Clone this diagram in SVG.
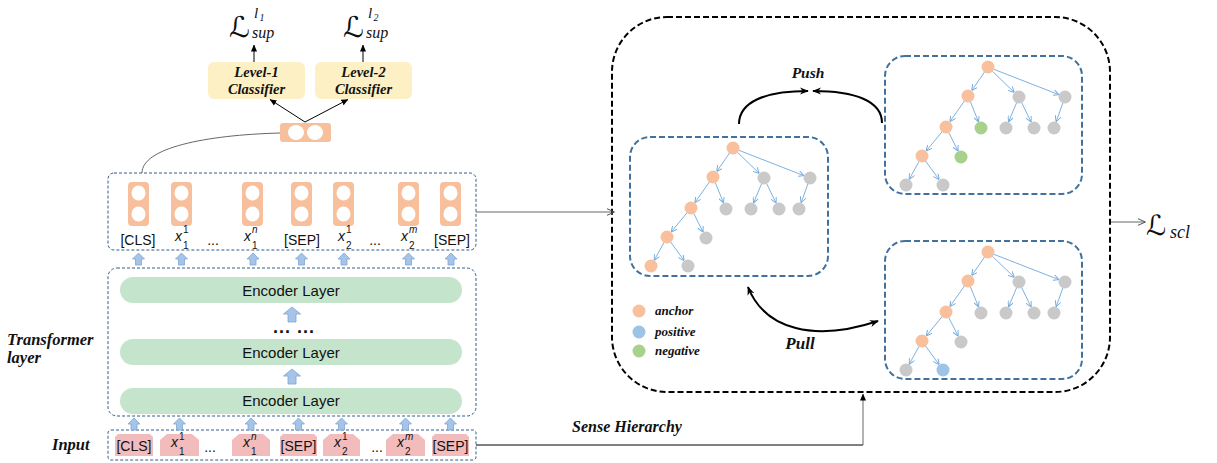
<svg xmlns="http://www.w3.org/2000/svg" xmlns:xlink="http://www.w3.org/1999/xlink" width="1217" height="463" viewBox="0 0 1217 463">
<style>
.sans{font-family:"Liberation Sans",Arial,sans-serif;fill:#111}
.bi{font-family:"Liberation Serif","Times New Roman",serif;font-weight:bold;font-style:italic;fill:#111}
.it{font-family:"Liberation Serif","Times New Roman",serif;font-style:italic;fill:#111}
.cal{font-family:"DejaVu Serif","DejaVu Sans",serif;fill:#111}
.tok{fill:#f7bf9b}
.hole{fill:#fff}
.inp{fill:#f2bcbd}
.enc{fill:#c4e5cc}
.cls{fill:#fdf0c4}
.lbox{fill:none;stroke:#2f5d8c;stroke-width:1;stroke-dasharray:3 2}
.tbox{fill:#fff;stroke:#41719c;stroke-width:2;stroke-dasharray:6 3}
.big{fill:none;stroke:#000;stroke-width:2;stroke-dasharray:6 3}
.ua{fill:#a6c4e8;stroke:#7fa4d4;stroke-width:0.8}
.te{stroke:#6fa8dc;stroke-width:0.9;fill:none;marker-end:url(#mb)}
.o{fill:#f8c09c}.g{fill:#c9c9c9}.gr{fill:#a9d18e}.b{fill:#9dc3e6}
.thin{fill:none;stroke:#555;stroke-width:0.9}
.blk{fill:none;stroke:#000;stroke-width:1}
.heavy{fill:none;stroke:#000;stroke-width:2}
</style>
<defs>
<marker id="mb" viewBox="0 0 6 6" refX="5.5" refY="3" markerWidth="6" markerHeight="6" markerUnits="userSpaceOnUse" orient="auto"><path d="M0,0 L6,3 L0,6" fill="none" stroke="#6fa8dc" stroke-width="0.9"/></marker>
<marker id="mg" viewBox="0 0 8 8" refX="7.5" refY="4" markerWidth="8" markerHeight="8" markerUnits="userSpaceOnUse" orient="auto"><path d="M0,0.5 L8,4 L0,7.5" fill="none" stroke="#555" stroke-width="1"/></marker>
<marker id="mk" viewBox="0 0 8 8" refX="7.5" refY="4" markerWidth="7" markerHeight="7" markerUnits="userSpaceOnUse" orient="auto"><path d="M0,0.5 L8,4 L0,7.5 Z" fill="#000"/></marker>
<marker id="mh" viewBox="0 0 10 10" refX="9" refY="5" markerWidth="9" markerHeight="9" markerUnits="userSpaceOnUse" orient="auto"><path d="M0,1 L10,5 L0,9 L3,5 Z" fill="#000"/></marker>
<marker id="mhs" viewBox="0 0 10 10" refX="1" refY="5" markerWidth="9" markerHeight="9" markerUnits="userSpaceOnUse" orient="auto"><path d="M10,1 L0,5 L10,9 L7,5 Z" fill="#000"/></marker>
<path id="ua" d="M0,0 L6,6 L3,6 L3,12 L-3,12 L-3,6 L-6,6 Z"/>
<path id="ub" d="M0,0 L8.5,7 L4,7 L4,15 L-4,15 L-4,7 L-8.5,7 Z"/>
<g id="edges">
<path class="te" d="M-3.4,4.9 L-16,23.2"/>
<path class="te" d="M4.3,4.2 L26,25.1"/>
<path class="te" d="M5.6,2.2 L70.5,27.5"/>
<path class="te" d="M-23.5,33.9 L-37.9,54.3"/>
<path class="te" d="M-17.7,34.6 L-9.6,54.5"/>
<path class="te" d="M28.7,35.5 L20.7,54.5"/>
<path class="te" d="M33.6,35.4 L42.9,54.7"/>
<path class="te" d="M75,35.6 L68.3,54.4"/>
<path class="te" d="M-45.8,64.6 L-61.5,83.6"/>
<path class="te" d="M-39.3,65.4 L-30.1,83.7"/>
<path class="te" d="M-68.9,94.3 L-78.6,111.9"/>
<path class="te" d="M-62.5,93.9 L-49.1,112.3"/>
</g>
</defs>
<rect width="1217" height="463" fill="#fff"/>

<!-- left labels -->
<g id="label-transformer"><text class="bi" x="7" y="345" font-size="16.5">Transformer</text><text class="bi" x="7" y="363" font-size="16.5">layer</text></g>
<g id="label-input"><text class="bi" x="52" y="450" font-size="16.5">Input</text></g>

<!-- output token box -->
<g id="output-tokens">
<rect class="lbox" x="108" y="173" width="368" height="77" rx="6"/>
<g id="o-cls"><rect class="tok" x="128" y="182" width="21" height="44" rx="4"/><ellipse class="hole" cx="138.5" cy="193" rx="7" ry="7.5"/><ellipse class="hole" cx="138.5" cy="214" rx="7" ry="7.5"/></g>
<g id="o-x11"><rect class="tok" x="171" y="182" width="21" height="44" rx="4"/><ellipse class="hole" cx="181.5" cy="193" rx="7" ry="7.5"/><ellipse class="hole" cx="181.5" cy="214" rx="7" ry="7.5"/></g>
<g id="o-x1n"><rect class="tok" x="242" y="182" width="21" height="44" rx="4"/><ellipse class="hole" cx="252.5" cy="193" rx="7" ry="7.5"/><ellipse class="hole" cx="252.5" cy="214" rx="7" ry="7.5"/></g>
<g id="o-sep1"><rect class="tok" x="291" y="182" width="21" height="44" rx="4"/><ellipse class="hole" cx="301.5" cy="193" rx="7" ry="7.5"/><ellipse class="hole" cx="301.5" cy="214" rx="7" ry="7.5"/></g>
<g id="o-x21"><rect class="tok" x="333" y="182" width="21" height="44" rx="4"/><ellipse class="hole" cx="343.5" cy="193" rx="7" ry="7.5"/><ellipse class="hole" cx="343.5" cy="214" rx="7" ry="7.5"/></g>
<g id="o-x2m"><rect class="tok" x="398" y="182" width="21" height="44" rx="4"/><ellipse class="hole" cx="408.5" cy="193" rx="7" ry="7.5"/><ellipse class="hole" cx="408.5" cy="214" rx="7" ry="7.5"/></g>
<g id="o-sep2"><rect class="tok" x="440" y="182" width="21" height="44" rx="4"/><ellipse class="hole" cx="450.5" cy="193" rx="7" ry="7.5"/><ellipse class="hole" cx="450.5" cy="214" rx="7" ry="7.5"/></g>
<text class="sans" x="138" y="245" font-size="14" text-anchor="middle">[CLS]</text>
<text class="sans" x="175" y="241" font-size="14" font-style="italic">x</text><text class="sans" x="183" y="233" font-size="10">1</text><text class="sans" x="183" y="249" font-size="10">1</text>
<text class="sans" x="213" y="245" font-size="14" text-anchor="middle">...</text>
<text class="sans" x="244" y="241" font-size="14" font-style="italic">x</text><text class="sans" x="252" y="233" font-size="10" font-style="italic">n</text><text class="sans" x="252" y="249" font-size="10">1</text>
<text class="sans" x="302" y="245" font-size="14" text-anchor="middle">[SEP]</text>
<text class="sans" x="338" y="241" font-size="14" font-style="italic">x</text><text class="sans" x="346" y="233" font-size="10">1</text><text class="sans" x="346" y="249" font-size="10">2</text>
<text class="sans" x="375" y="245" font-size="14" text-anchor="middle">...</text>
<text class="sans" x="401" y="241" font-size="14" font-style="italic">x</text><text class="sans" x="409" y="233" font-size="10" font-style="italic">m</text><text class="sans" x="409" y="249" font-size="10">2</text>
<text class="sans" x="452" y="245" font-size="14" text-anchor="middle">[SEP]</text>
</g>

<!-- transformer box -->
<g id="transformer">
<rect class="lbox" x="108" y="268" width="368" height="148" rx="9"/>
<g id="enc3"><rect class="enc" x="120" y="277" width="342" height="26" rx="13"/><text class="sans" x="291" y="296" font-size="15" text-anchor="middle">Encoder Layer</text></g>
<text class="sans" x="294" y="333" font-size="18" font-weight="bold" text-anchor="middle" letter-spacing="1">... ...</text>
<g id="enc2"><rect class="enc" x="120" y="339" width="342" height="26" rx="13"/><text class="sans" x="291" y="358" font-size="15" text-anchor="middle">Encoder Layer</text></g>
<g id="enc1"><rect class="enc" x="120" y="388" width="342" height="26" rx="13"/><text class="sans" x="291" y="406" font-size="15" text-anchor="middle">Encoder Layer</text></g>
</g>

<!-- input box -->
<g id="input-tokens">
<rect class="lbox" x="108" y="430" width="368" height="30" rx="3"/>
<g id="i-cls"><path class="inp" d="M118,434 L150,434 L153,437 L153,456 L115,456 L115,437 Z"/><text class="sans" x="134" y="451" font-size="14" text-anchor="middle">[CLS]</text></g>
<g id="i-x11"><path class="inp" d="M167,434 L192,434 L199,440 L199,456 L160,456 L160,440 Z"/><text class="sans" x="171" y="447" font-size="14" font-style="italic">x</text><text class="sans" x="179" y="440" font-size="10">1</text><text class="sans" x="179" y="455" font-size="10">1</text></g>
<text class="sans" x="210" y="452" font-size="14" text-anchor="middle">...</text>
<g id="i-x1n"><path class="inp" d="M239,434 L263,434 L270,440 L270,456 L232,456 L232,440 Z"/><text class="sans" x="243" y="447" font-size="14" font-style="italic">x</text><text class="sans" x="251" y="440" font-size="10" font-style="italic">n</text><text class="sans" x="251" y="455" font-size="10">1</text></g>
<g id="i-sep1"><path class="inp" d="M283,434 L314,434 L317,437 L317,456 L280,456 L280,437 Z"/><text class="sans" x="298.5" y="451" font-size="14" text-anchor="middle">[SEP]</text></g>
<g id="i-x21"><path class="inp" d="M330,434 L353,434 L360,440 L360,456 L323,456 L323,440 Z"/><text class="sans" x="334" y="447" font-size="14" font-style="italic">x</text><text class="sans" x="342" y="440" font-size="10">1</text><text class="sans" x="342" y="455" font-size="10">2</text></g>
<text class="sans" x="377" y="452" font-size="14" text-anchor="middle">...</text>
<g id="i-x2m"><path class="inp" d="M393,434 L418,434 L425,440 L425,456 L386,456 L386,440 Z"/><text class="sans" x="397" y="447" font-size="14" font-style="italic">x</text><text class="sans" x="405" y="440" font-size="10" font-style="italic">m</text><text class="sans" x="405" y="455" font-size="10">2</text></g>
<g id="i-sep2"><path class="inp" d="M435,434 L466,434 L469,437 L469,456 L432,456 L432,437 Z"/><text class="sans" x="450.5" y="451" font-size="14" text-anchor="middle">[SEP]</text></g>
</g>

<!-- blue block arrows -->
<g id="block-arrows">
<use href="#ua" class="ua" x="138.5" y="253"/><use href="#ua" class="ua" x="181.5" y="253"/><use href="#ua" class="ua" x="253" y="253"/><use href="#ua" class="ua" x="301.5" y="253"/><use href="#ua" class="ua" x="344" y="253"/><use href="#ua" class="ua" x="408.5" y="253"/><use href="#ua" class="ua" x="451" y="253"/>
<use href="#ua" class="ua" x="134" y="418"/><use href="#ua" class="ua" x="179.5" y="418"/><use href="#ua" class="ua" x="251" y="418"/><use href="#ua" class="ua" x="298.5" y="418"/><use href="#ua" class="ua" x="341.5" y="418"/><use href="#ua" class="ua" x="405.5" y="418"/><use href="#ua" class="ua" x="450.5" y="418"/>
<use href="#ub" class="ua" x="292" y="307"/><use href="#ub" class="ua" x="292" y="369"/>
</g>

<!-- pooled vector and classifiers -->
<g id="pooled"><rect class="tok" x="280" y="123" width="51" height="19" rx="3"/><ellipse class="hole" cx="296" cy="132.5" rx="8" ry="7.5"/><ellipse class="hole" cx="315" cy="132.5" rx="8" ry="7.5"/></g>
<g id="cls1"><rect class="cls" x="208" y="62" width="97" height="37" rx="6"/><text class="bi" x="256.5" y="77" font-size="14.5" text-anchor="middle">Level-1</text><text class="bi" x="256.5" y="94" font-size="14.5" text-anchor="middle">Classifier</text></g>
<g id="cls2"><rect class="cls" x="315" y="62" width="97" height="37" rx="6"/><text class="bi" x="363.5" y="77" font-size="14.5" text-anchor="middle">Level-2</text><text class="bi" x="363.5" y="94" font-size="14.5" text-anchor="middle">Classifier</text></g>
<g id="loss1"><text class="cal" x="229" y="37" font-size="29">ℒ</text><text class="it" x="254" y="18" font-size="15">l</text><text class="it" x="259.5" y="21" font-size="10">1</text><text class="it" x="252" y="38" font-size="16">sup</text></g>
<g id="loss2"><text class="cal" x="343" y="37" font-size="29">ℒ</text><text class="it" x="368" y="18" font-size="15">l</text><text class="it" x="373.5" y="21" font-size="10">2</text><text class="it" x="366" y="38" font-size="16">sup</text></g>

<!-- right big box -->
<g id="contrastive">
<rect class="big" x="612" y="17" width="498" height="375" rx="55"/>
</g>

<!-- trees -->
<g id="tree-anchor">
<rect class="tbox" x="630" y="137" width="198" height="139" rx="20"/>
<g transform="translate(733,148)">
<use href="#edges"/>
<circle class="o" cx="0" cy="0" r="6.5"/>
<circle class="o" cx="-20" cy="29" r="6.5"/><circle class="g" cx="31" cy="30" r="6.5"/><circle class="g" cx="77" cy="30" r="6.5"/>
<circle class="o" cx="-42" cy="60" r="6.5"/><circle class="g" cx="-7" cy="61" r="6.5"/><circle class="g" cx="18" cy="61" r="6.5"/><circle class="g" cx="46" cy="61" r="6.5"/><circle class="g" cx="66" cy="61" r="6.5"/>
<circle class="o" cx="-66" cy="89" r="6.5"/><circle class="g" cx="-27" cy="90" r="6.5"/>
<circle class="o" cx="-82" cy="118" r="6.5"/><circle class="g" cx="-45" cy="118" r="6.5"/>
</g>
</g>
<g id="tree-negative">
<rect class="tbox" x="885" y="56" width="197" height="138" rx="20"/>
<g transform="translate(988,67)">
<use href="#edges"/>
<circle class="o" cx="0" cy="0" r="6.5"/>
<circle class="o" cx="-20" cy="29" r="6.5"/><circle class="g" cx="31" cy="30" r="6.5"/><circle class="g" cx="77" cy="30" r="6.5"/>
<circle class="o" cx="-42" cy="60" r="6.5"/><circle class="gr" cx="-7" cy="61" r="6.5"/><circle class="g" cx="18" cy="61" r="6.5"/><circle class="g" cx="46" cy="61" r="6.5"/><circle class="g" cx="66" cy="61" r="6.5"/>
<circle class="o" cx="-66" cy="89" r="6.5"/><circle class="gr" cx="-27" cy="90" r="6.5"/>
<circle class="g" cx="-82" cy="118" r="6.5"/><circle class="g" cx="-45" cy="118" r="6.5"/>
</g>
</g>
<g id="tree-positive">
<rect class="tbox" x="885" y="241" width="197" height="138" rx="20"/>
<g transform="translate(988,252)">
<use href="#edges"/>
<circle class="o" cx="0" cy="0" r="6.5"/>
<circle class="o" cx="-20" cy="29" r="6.5"/><circle class="g" cx="31" cy="30" r="6.5"/><circle class="g" cx="77" cy="30" r="6.5"/>
<circle class="o" cx="-42" cy="60" r="6.5"/><circle class="g" cx="-7" cy="61" r="6.5"/><circle class="g" cx="18" cy="61" r="6.5"/><circle class="g" cx="46" cy="61" r="6.5"/><circle class="g" cx="66" cy="61" r="6.5"/>
<circle class="o" cx="-66" cy="89" r="6.5"/><circle class="g" cx="-27" cy="90" r="6.5"/>
<circle class="g" cx="-82" cy="118" r="6.5"/><circle class="b" cx="-45" cy="118" r="6.5"/>
</g>
</g>

<!-- legend -->
<g id="legend">
<circle class="o" cx="639" cy="311" r="6.5"/><text class="bi" x="655" y="315" font-size="13">anchor</text>
<circle class="b" cx="639" cy="332" r="6.5"/><text class="bi" x="655" y="336" font-size="13">positive</text>
<circle class="gr" cx="639" cy="351" r="6.5"/><text class="bi" x="655" y="355" font-size="13">negative</text>
</g>

<g id="labels-right">
<text class="bi" x="808" y="78" font-size="15.5" text-anchor="middle">Push</text>
<text class="bi" x="800" y="349" font-size="17" text-anchor="middle">Pull</text>
<text class="bi" x="627" y="432" font-size="16" text-anchor="middle">Sense Hierarchy</text>
<g id="loss-scl"><text class="cal" x="1146" y="235" font-size="28">ℒ</text><text class="it" x="1170" y="238" font-size="18">scl</text></g>
</g>

<!-- connectors -->
<g id="connectors">
<path class="thin" d="M142,173 C142,148 205,135 280,133"/>
<path class="blk" d="M305,122 L270,99.5" marker-end="url(#mk)"/>
<path class="blk" d="M305,122 L348,99.5" marker-end="url(#mk)"/>
<path class="blk" d="M254,62 L254,45" marker-end="url(#mk)"/>
<path class="blk" d="M363,62 L363,45" marker-end="url(#mk)"/>
<path class="thin" d="M476,212 L614,212" marker-end="url(#mg)"/>
<path class="thin" stroke="#888" d="M1111,222 L1145,222" marker-end="url(#mg)"/>
<path class="blk" d="M476,445 L863,445"/>
<path class="thin" d="M863,445 L863,394" marker-end="url(#mk)"/>
<path class="heavy" d="M739,124 C739,102 765,91 808,91" marker-end="url(#mh)"/>
<path class="heavy" d="M882,123 C882,101 855,91 813,91" marker-end="url(#mh)"/>
<path class="heavy" d="M748,287 C765,330 815,342 878,321" marker-start="url(#mhs)" marker-end="url(#mh)"/>
</g>
</svg>
